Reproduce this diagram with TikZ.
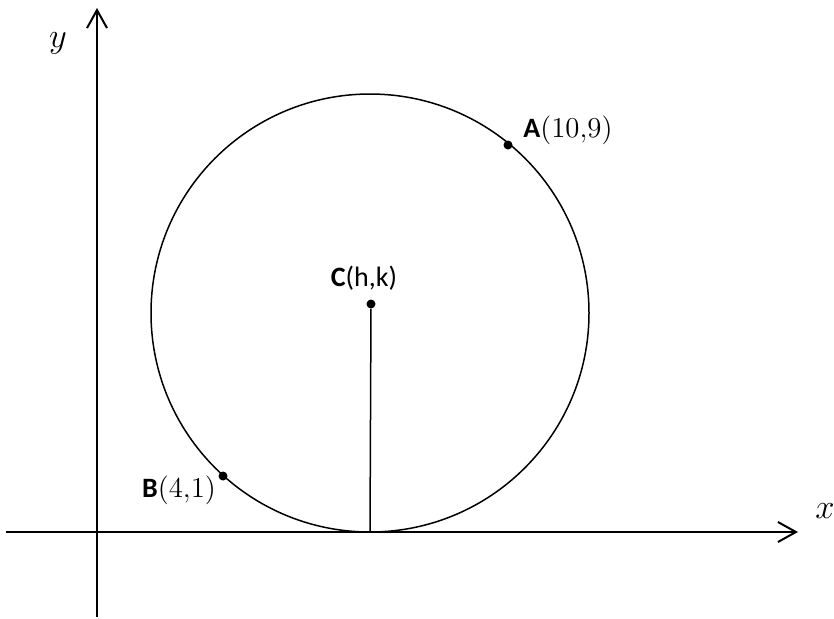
\documentclass[tikz,border=0pt]{standalone}
\usepackage{fontspec}
\setsansfont{Carlito}
\usepackage{tikz}
\usetikzlibrary{arrows.meta,positioning}

\begin{document}
\begin{tikzpicture}[
 x=0.5pt,y=-0.5pt,
 every node/.style={font=\fontsize{14}{16}\selectfont},
 axis/.style={-{Straight Barb[length=9pt,width=10pt]},line width=1pt},
 dot/.style={circle,fill=black,inner sep=0pt,minimum size=4.5pt},
 ptlabel/.style={inner sep=0pt}
]
\useasboundingbox (0,0) rectangle (834,618);
% axes
\coordinate (xs) at (6,532);
\coordinate (xe) at (798,532);
\coordinate (ys) at (97,617);
\coordinate (ye) at (97,8);
\draw[axis] (xs)--(xe);
\draw[axis] (ys)--(ye);
\node[font=\fontsize{16}{18}\selectfont,inner sep=0pt] (xlab) at (825,511) {$x$};
\node[font=\fontsize{16}{18}\selectfont] (ylab) at (58,43) {$y$};
% circle and points
\node[circle,draw,line width=0.75pt,minimum size=219pt,inner sep=0pt] (circ) at (370,313) {};
\node[dot] (C) at (371,304) {};
\node[dot] (A) at (508,145) {};
\node[dot] (B) at (223,476) {};
\draw[line width=0.75pt] (C)--(circ.south);
\node[ptlabel] (Alab) at (568,130) {\textsf{\textbf{A}}$(10{,}9)$};
\node[ptlabel] (Blab) at (179,490) {\textsf{\textbf{B}}$(4{,}1)$};
\node[ptlabel] (Clab) at (364,278) {\textsf{\textbf{C}(h,k)}};
\end{tikzpicture}
\end{document}
